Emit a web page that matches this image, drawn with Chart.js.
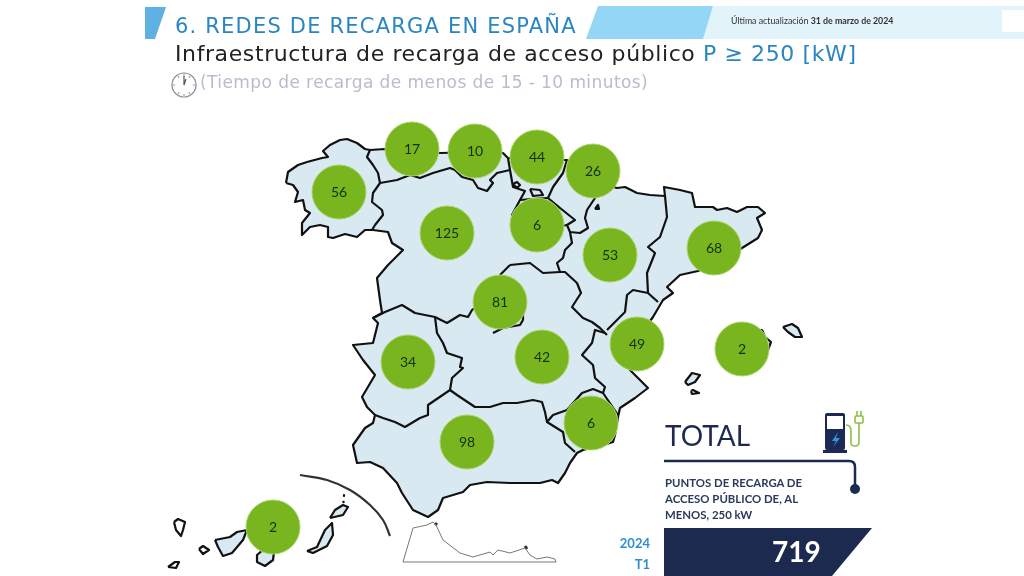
<!DOCTYPE html>
<html lang="es">
<head>
<meta charset="utf-8">
<title>Redes de recarga en España</title>
<script src="https://cdn.jsdelivr.net/npm/chart.js@4"></script>
<style>
    html, body { margin: 0; padding: 0; background: #fff; overflow: hidden; }
    #page { position: relative; width: 1024px; height: 576px; }
    #mapChart { position: absolute; left: 0; top: 0; }
    #deco { position: absolute; left: 0; top: 0; }
    .txt { position: absolute; white-space: nowrap; line-height: 1; }
    .head { font-family: "DejaVu Sans", sans-serif; }
    .cal { font-family: Lato, sans-serif; }
</style>
</head>
<body>
<div id="page">
    <svg id="deco" width="1024" height="576">
        <polygon points="145,7 166,7 155,39 145,39" fill="#5fb0e3"/>
        <polygon points="713,6 1024,6 1024,39 703,39" fill="#e2f3fa"/>
        <polygon points="598,6 713,6 703,39 586,39" fill="#93d6f6"/>
        <rect x="1002" y="10" width="22" height="22" fill="#fff"/>
        <circle cx="184" cy="85" r="12" fill="#fff" stroke="#8b8d99" stroke-width="1.2"/>
        <path d="M184 76 L184 85 L186 79" fill="none" stroke="#555" stroke-width="1.2"/>
        <path d="M184 74 V76 M184 94 V96 M173 85 H175 M193 85 H195 M178 76 L179 78 M190 76 L189 78 M178 94 L179 92 M190 94 L189 92" stroke="#8b8d99" stroke-width="1"/>
        <path d="M664 461 H849 Q855 461 855 467 V486" fill="none" stroke="#1b2a55" stroke-width="2.5"/>
        <circle cx="855" cy="489" r="5" fill="#1b2a55"/>
        <polygon points="664,528 872,528 832,576 664,576" fill="#1b2a4e"/>
        <!-- pump icon -->
        <rect x="825" y="413" width="20" height="37" rx="2" fill="#1b2a55"/>
        <rect x="827" y="416" width="16" height="13" fill="#fff"/>
        <rect x="823" y="450" width="24" height="3" fill="#1b2a55"/>
        <path d="M838 432 L832 441 L836 441 L833 447 L840 438 L836 438 Z" fill="#2d97d9"/>
        <path d="M846 425 Q851 425 851 431 V443 Q851 446 855 446 Q859 446 859 442 V423" fill="none" stroke="#8fbf45" stroke-width="1.6"/>
        <rect x="855" y="416" width="8" height="7" rx="1" fill="#fff" stroke="#8fbf45" stroke-width="1.6"/>
        <path d="M857 411 V416 M861 411 V416" stroke="#8fbf45" stroke-width="1.6"/>
    </svg>
    <canvas id="mapChart" width="1024" height="576"></canvas>

    <div class="txt head" style="left:175px;top:16px;font-size:21px;color:#2a86c0;letter-spacing:1.2px">6. REDES DE RECARGA EN ESPAÑA</div>
    <div class="txt cal" style="left:731px;top:17px;font-size:8.8px;color:#333">Última actualización <b>31 de marzo de 2024</b></div>
    <div class="txt head" style="left:175px;top:43px;font-size:22px;color:#222;letter-spacing:.6px">Infraestructura de recarga de acceso público <span style="color:#2a86c0">P ≥ 250 [kW]</span></div>
    <div class="txt head" style="left:200px;top:74px;font-size:17px;color:#b9bccd;letter-spacing:.42px">(Tiempo de recarga de menos de 15 - 10 minutos)</div>

    <div class="txt cal" style="left:665px;top:421px;font-size:28px;color:#1b2a4e">TOTAL</div>
    <div class="txt cal" style="left:665px;top:475px;font-size:11.4px;font-weight:700;color:#2b3a5c;line-height:16px">PUNTOS DE RECARGA DE<br>ACCESO PÚBLICO DE, AL<br>MENOS, 250 kW</div>
    <div class="txt cal" style="left:617px;top:533px;width:33px;text-align:right;font-size:13px;font-weight:700;color:#2d8fcf;line-height:21px">2024<br>T1</div>
    <div class="txt cal" style="left:772px;top:537px;font-size:28px;font-weight:700;color:#fff">719</div>
</div>

<script>
'use strict';

// values per comunidad
var regionNames = ['Asturias', 'Cantabria', 'País Vasco', 'Navarra', 'Galicia', 'Castilla y León', 'La Rioja', 'Aragón', 'Cataluña', 'Madrid', 'C. Valenciana', 'Baleares', 'Extremadura', 'Castilla-La Mancha', 'Murcia', 'Andalucía', 'Canarias'];
var regionValues = [17, 10, 44, 26, 56, 125, 6, 53, 68, 81, 49, 2, 34, 42, 6, 98, 2];
// where each bubble sits on the map
var regionMapX = [412, 475, 537, 593, 339, 447, 537, 610, 714, 500, 637, 742, 408, 542, 591, 467, 273];
var regionMapY = [149, 151, 157, 171, 192, 233, 225, 255, 248, 302, 344, 349, 362, 357, 423, 442, 527];

// map outlines, in the same map coordinates
var mainland = [[286,183],[288,172],[298,165],[307,162],[322,158],[328,157],[323,151],[330,145],[340,140],[347,139],[357,143],[365,149],[370,150],[385,149],[410,150],[440,153],[480,152],[503,153],[508,158],[530,160],[567,160],[590,180],[617,188],[625,187],[637,193],[650,195],[665,196],[664,187],[680,190],[692,193],[695,207],[713,207],[717,210],[727,208],[737,212],[747,207],[758,207],[765,213],[757,218],[762,230],[758,238],[742,248],[720,262],[698,271],[680,275],[667,287],[673,293],[663,300],[653,317],[640,335],[625,355],[630,370],[648,388],[635,398],[620,408],[618,417],[615,435],[613,442],[603,445],[583,450],[577,453],[570,463],[565,473],[558,483],[552,480],[540,483],[527,483],[510,483],[487,482],[470,485],[463,492],[443,498],[438,510],[428,517],[413,510],[402,493],[397,483],[383,468],[370,462],[357,463],[353,445],[365,428],[373,423],[375,415],[367,407],[362,397],[375,375],[363,360],[353,345],[373,343],[378,323],[373,318],[382,313],[380,300],[377,278],[388,265],[403,250],[392,243],[388,232],[373,230],[365,230],[357,237],[345,234],[333,238],[328,237],[328,227],[320,225],[310,227],[302,235],[302,223],[310,213],[305,210],[303,200],[295,202],[298,192],[293,185],[286,183]];
var borderGalicia = [[370,150],[367,157],[373,165],[378,173],[380,183],[373,193],[372,202],[382,210],[383,215],[375,225],[372,230]];
var borderCantabrico = [[380,183],[397,180],[410,175],[420,178],[433,173],[450,168],[455,170],[462,177],[473,180],[478,188],[487,191],[493,183],[490,180],[497,173],[510,170],[508,158]];
var borderVasco = [[510,170],[513,187],[525,191],[520,200],[532,199],[548,198]];
var borderNavarra = [[567,160],[563,173],[553,187],[548,198],[560,208],[575,220],[567,225],[570,232],[580,233],[588,228],[585,218],[587,210],[595,198],[597,188]];
var borderRioja = [[520,200],[512,215],[530,232],[567,225]];
var borderAragonWest = [[570,232],[572,243],[565,250],[563,258],[557,263],[560,272],[565,272],[577,283],[581,293],[572,307],[583,318],[592,322],[600,328],[607,335]];
var borderAragonSouth = [[607,330],[625,312],[627,295],[633,290],[648,293],[658,302]];
var borderCataluna = [[665,196],[667,217],[660,237],[648,247],[655,253],[647,273],[648,293]];
var borderCastillaNorth = [[510,265],[530,263],[543,273],[560,272]];
var borderMadrid = [[500,275],[510,265]];
var borderMadridSouth = [[523,312],[523,320],[520,325],[503,328],[493,333]];
var borderCastillaSouth = [[373,318],[385,312],[402,305],[415,313],[435,317],[447,323],[460,315],[468,317],[472,310],[485,300]];
var borderExtremaduraEast = [[435,317],[437,333],[443,343],[447,353],[462,358],[460,367],[463,368],[452,378],[450,390]];
var borderExtremaduraSouth = [[450,390],[428,405],[428,415],[420,418],[405,427],[395,422],[383,418],[375,415]];
var borderAndalucia = [[450,390],[457,395],[475,407],[490,407],[503,403],[517,403],[533,400],[542,402],[545,412],[547,422],[563,432],[565,443],[575,452]];
var borderMurcia = [[547,422],[553,415],[567,410],[582,393],[593,389],[603,393],[618,415]];
var borderValencia = [[605,333],[595,330],[592,343],[582,355],[593,365],[595,378],[605,387],[603,393]];
var enclaveTrevino = [[513,184],[517,182],[520,185],[517,188],[513,184]];
var enclaveVillaverde = [[530,189],[540,190],[543,195],[533,196],[530,189]];
var enclavePetilla = [[595,209],[598,205],[599,209],[595,209]];

var mallorca = [[757,330],[762,330],[765,337],[771,342],[768,350],[762,360],[745,365],[725,350],[735,335],[757,330]];
var menorca = [[783,327],[792,324],[798,328],[802,337],[795,337],[788,332],[783,327]];
var ibiza = [[685,382],[692,373],[700,375],[695,382],[688,385],[685,382]];
var formentera = [[691,391],[693,390],[699,393],[692,394],[691,391]];
var laPalma = [[174,522],[178,519],[185,522],[183,530],[181,536],[176,530],[174,522]];
var gomera = [[199,549],[203,546],[209,550],[203,554],[199,549]];
var hierro = [[168,567],[175,562],[179,562],[176,568],[168,567]];
var tenerife = [[215,540],[230,537],[237,532],[247,530],[243,540],[232,553],[223,556],[218,547],[215,540]];
var granCanaria = [[257,555],[257,562],[265,566],[273,560],[274,552],[265,548],[257,555]];
var fuerteventura = [[307,551],[317,547],[325,530],[332,523],[333,535],[327,546],[313,553],[307,551]];
var lanzarote = [[330,518],[335,510],[343,505],[348,507],[343,515],[330,518]];
var isleGraciosa = [[343,501],[344,503]];
var isleAlegranza = [[344,495],[344,496]];
var canariasArc = [[300,475],[327,480],[350,490],[370,505],[383,520],[390,536]];
var ceutaMelilla = [[403,562],[413,528],[427,525],[433,522],[436,525],[443,540],[460,553],[473,557],[490,552],[493,555],[498,550],[510,553],[525,548],[530,555],[537,559],[547,557],[555,559],[556,562],[403,562]];
var ceutaDot = [[435,523],[437,525]];
var melillaDot = [[525,546],[527,549]];

var landFill = '#d9e9f2';

function toPoints(list) {
    return list.map(function (p) { return { x: p[0], y: p[1] }; });
}

function outline(list) {
    return {
        type: 'line',
        data: toPoints(list),
        fill: false,
        borderColor: '#111',
        borderWidth: 2.2,
        borderJoinStyle: 'round',
        pointRadius: 0,
        tension: 0,
        order: 2
    };
}

function land(list) {
    var ds = outline(list);
    ds.fill = 'shape';
    ds.backgroundColor = landFill;
    ds.order = 3;
    return ds;
}

var datasets = [];

datasets.push({
    type: 'bubble',
    label: 'Puntos de recarga',
    data: regionValues.map(function (v, i) {
        return { x: regionMapX[i], y: regionMapY[i], r: 27, value: v };
    }),
    backgroundColor: '#79b51f',
    borderColor: '#a9d46a',
    borderWidth: 1,
    order: 0
});

[mainland, mallorca, menorca, ibiza, tenerife, granCanaria, fuerteventura, lanzarote].forEach(function (l) {
    datasets.push(land(l));
});
[borderGalicia, borderCantabrico, borderVasco, borderNavarra, borderRioja, borderAragonWest, borderAragonSouth, borderCataluna,
    borderCastillaNorth, borderMadrid, borderMadridSouth, borderCastillaSouth, borderExtremaduraEast, borderExtremaduraSouth,
    borderAndalucia, borderMurcia, borderValencia, enclaveTrevino, enclaveVillaverde, enclavePetilla,
    formentera, laPalma, gomera, hierro, isleGraciosa, isleAlegranza].forEach(function (l) {
    datasets.push(outline(l));
});

var arc = outline(canariasArc);
arc.borderColor = '#333';
arc.tension = 0.4;
datasets.push(arc);

var panel = outline(ceutaMelilla);
panel.borderColor = '#777';
panel.borderWidth = 1;
datasets.push(panel);

[ceutaDot, melillaDot].forEach(function (l) {
    var dot = outline(l);
    dot.borderColor = '#333';
    dot.borderWidth = 3;
    datasets.push(dot);
});

// numbers in the middle of the bubbles
var bubbleLabels = {
    id: 'bubbleLabels',
    afterDatasetsDraw: function (chart) {
        var ctx = chart.ctx;
        var meta = chart.getDatasetMeta(0);
        ctx.save();
        ctx.font = '14px Lato, sans-serif';
        ctx.fillStyle = '#16300c';
        ctx.textAlign = 'center';
        ctx.textBaseline = 'middle';
        meta.data.forEach(function (el, i) {
            ctx.fillText(String(regionValues[i]), el.x, el.y);
        });
        ctx.restore();
    }
};

new Chart(document.getElementById('mapChart'), {
    type: 'bubble',
    data: { labels: regionNames, datasets: datasets },
    plugins: [bubbleLabels],
    options: {
        responsive: false,
        animation: false,
        layout: { padding: 0, autoPadding: false },
        plugins: { legend: { display: false }, tooltip: { enabled: false } },
        scales: {
            x: { type: 'linear', min: 0, max: 1024, display: false },
            y: { type: 'linear', min: 0, max: 576, reverse: true, display: false }
        }
    }
});
</script>
</body>
</html>
